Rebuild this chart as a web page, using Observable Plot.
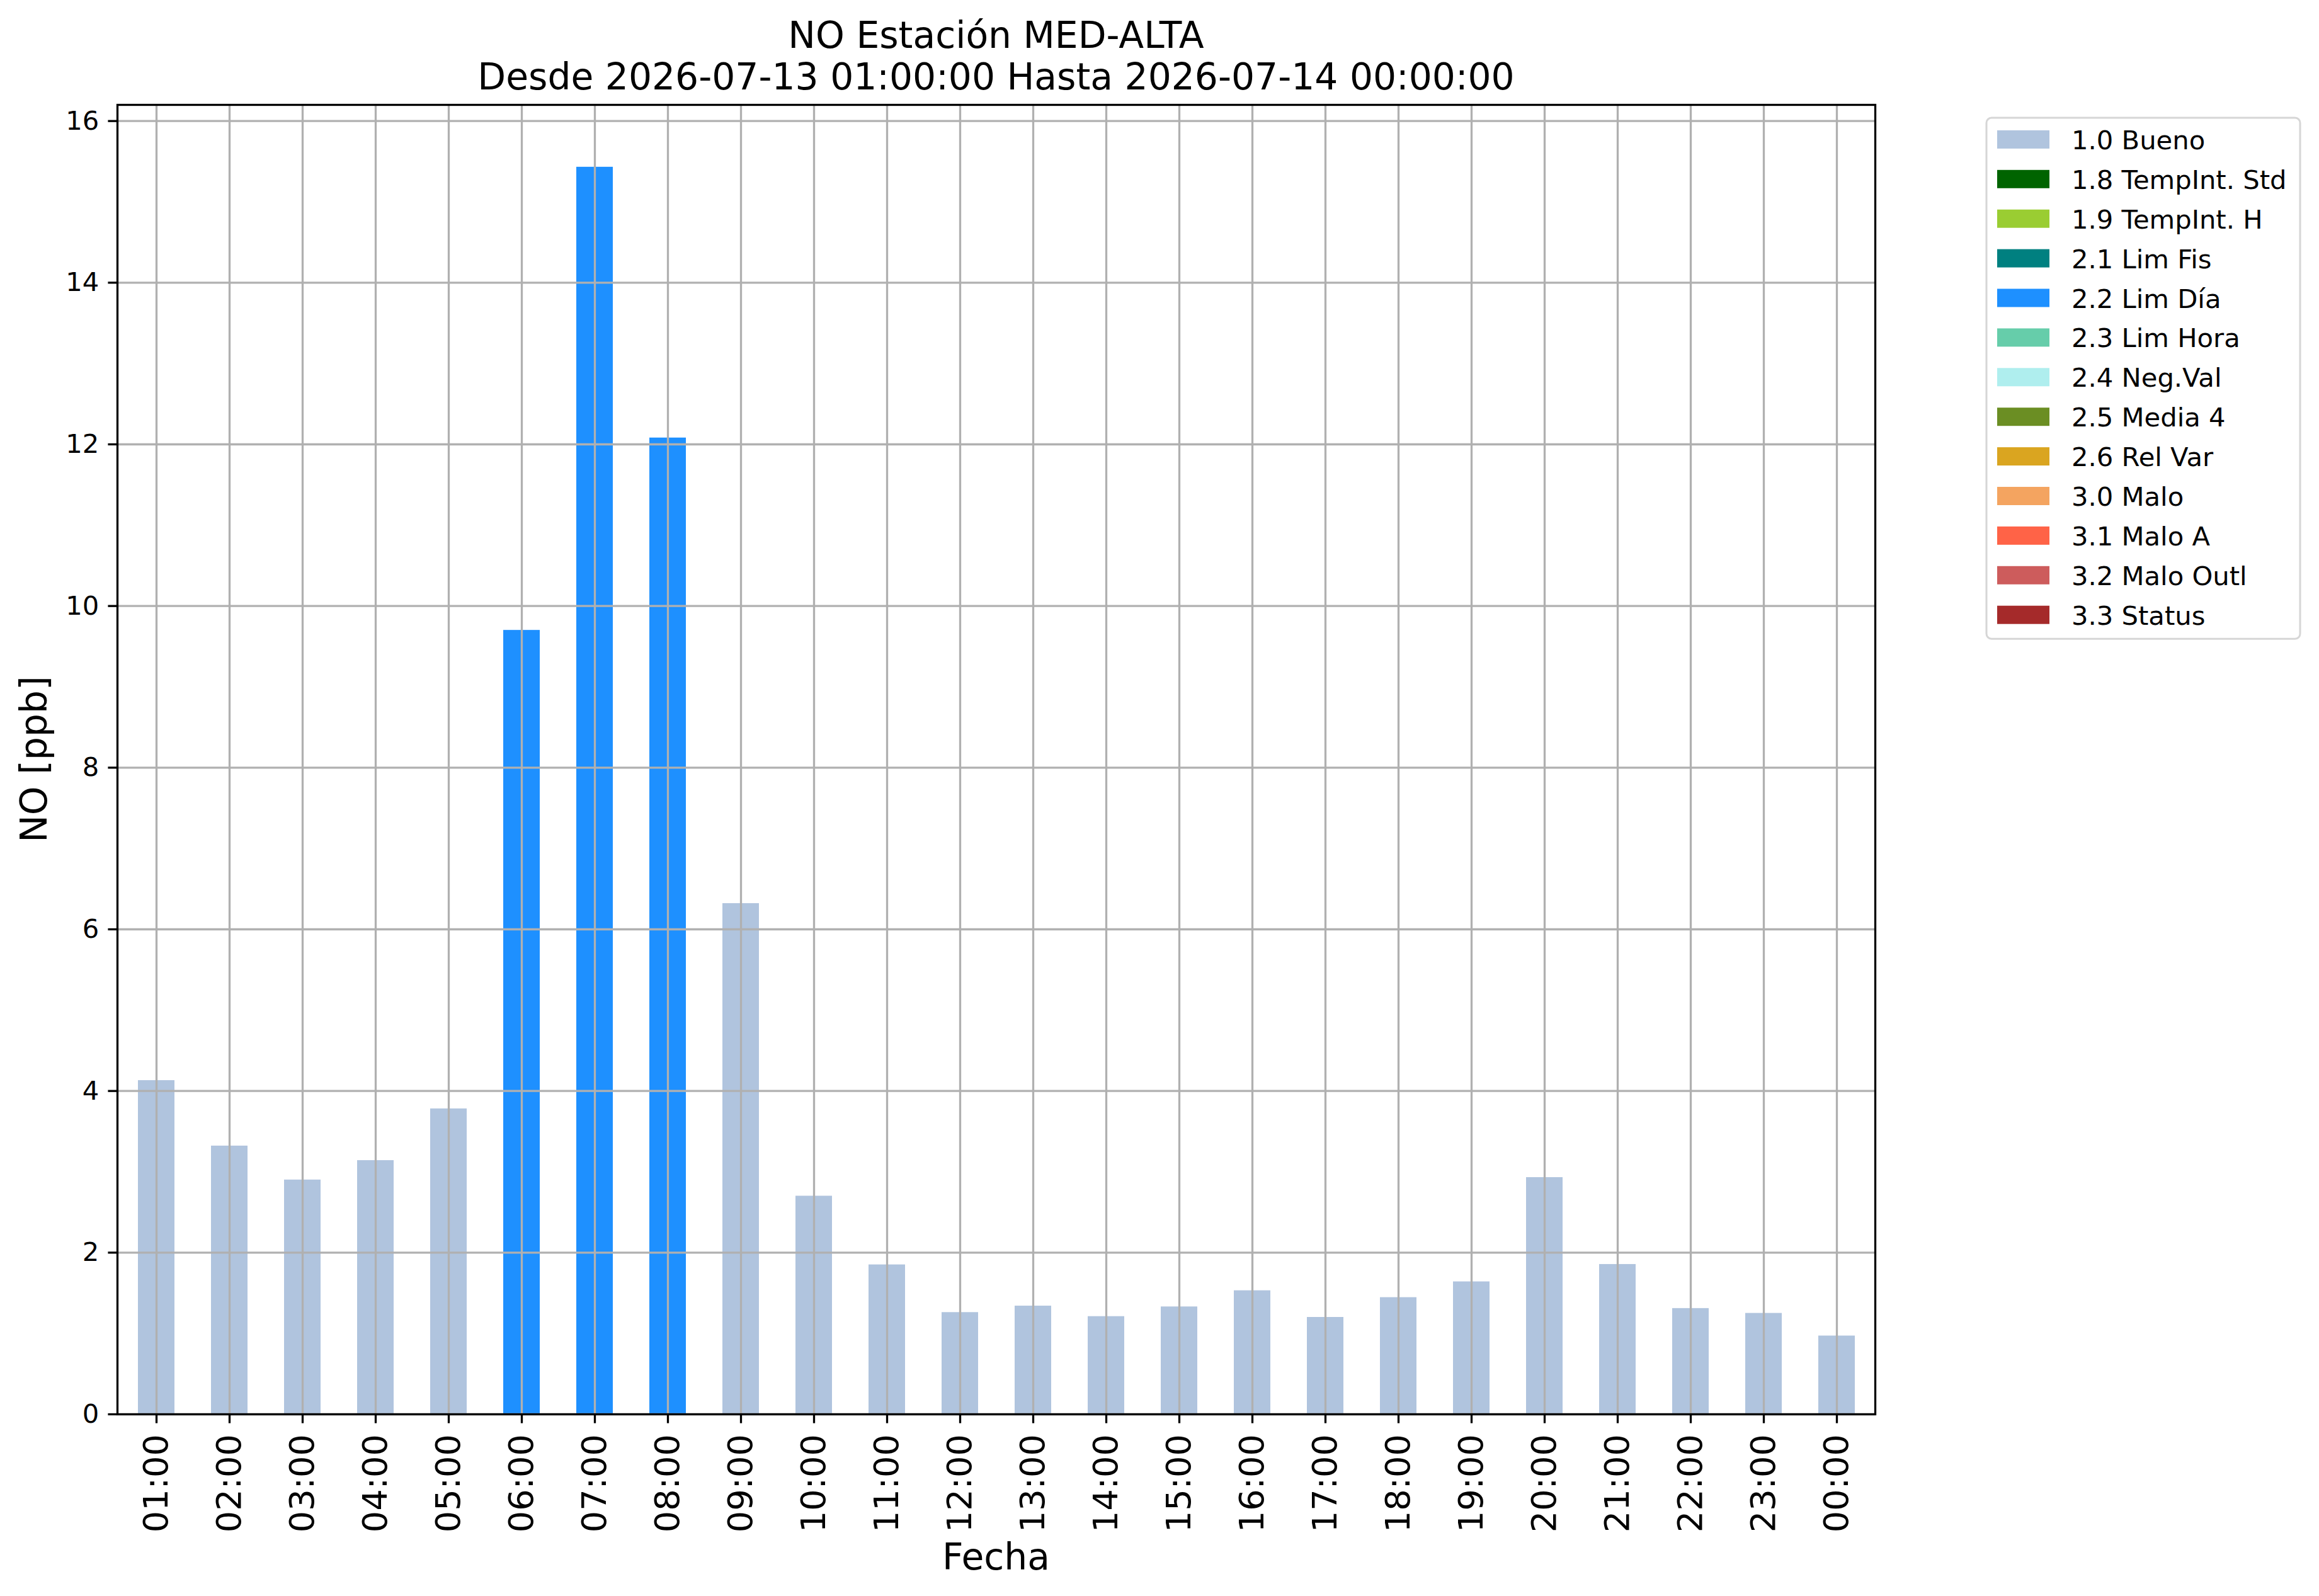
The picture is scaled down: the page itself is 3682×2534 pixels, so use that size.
<!DOCTYPE html>
<html>
<head>
<meta charset="utf-8">
<script src="https://cdn.jsdelivr.net/npm/d3@7"></script>
<script src="https://cdn.jsdelivr.net/npm/@observablehq/plot@0.6"></script>
<style>
  html, body { margin: 0; padding: 0; background: #ffffff; }
  #chart { width: 3682px; height: 2534px; }
</style>
</head>
<body>
<div id="chart"></div>
<script>
// ---- Data ----
const hours = ["01:00","02:00","03:00","04:00","05:00","06:00","07:00","08:00","09:00","10:00","11:00","12:00",
               "13:00","14:00","15:00","16:00","17:00","18:00","19:00","20:00","21:00","22:00","23:00","00:00"];
const values = [4.13, 3.32, 2.90, 3.14, 3.78, 9.70, 15.43, 12.08, 6.32, 2.70, 1.85, 1.26,
                1.34, 1.21, 1.33, 1.53, 1.20, 1.445, 1.64, 2.93, 1.855, 1.31, 1.25, 0.97];
const flags = ["1.0 Bueno","1.0 Bueno","1.0 Bueno","1.0 Bueno","1.0 Bueno","2.2 Lim Día","2.2 Lim Día","2.2 Lim Día",
               "1.0 Bueno","1.0 Bueno","1.0 Bueno","1.0 Bueno","1.0 Bueno","1.0 Bueno","1.0 Bueno","1.0 Bueno",
               "1.0 Bueno","1.0 Bueno","1.0 Bueno","1.0 Bueno","1.0 Bueno","1.0 Bueno","1.0 Bueno","1.0 Bueno"];
const flagLabels = ["1.0 Bueno","1.8 TempInt. Std","1.9 TempInt. H","2.1 Lim Fis","2.2 Lim Día","2.3 Lim Hora",
                    "2.4 Neg.Val","2.5 Media 4","2.6 Rel Var","3.0 Malo","3.1 Malo A","3.2 Malo Outl","3.3 Status"];
const flagColors = ["#B0C4DE","#006400","#9ACD32","#008080","#1E90FF","#66CDAA",
                    "#AFEEEE","#6B8E23","#DAA520","#F4A460","#FF6347","#CD5C5C","#A52A2A"];
const yTicks = [0, 2, 4, 6, 8, 10, 12, 14, 16];
const yMax = 16.2;
const titleLines = ["NO Estación MED-ALTA", "Desde 2026-07-13 01:00:00 Hasta 2026-07-14 00:00:00"];
const xLabel = "Fecha";
const yLabel = "NO [ppb]";

// ---- Build ----
const data = hours.map((h, i) => ({hour: h, value: values[i], flag: flags[i]}));
const W = 3682, H = 2534;
const mL = 186, mR = 705, mT = 166, mB = 289;
const FONT = "DejaVu Sans";
const GRID = "#b0b0b0";

const plot = Plot.plot({
  width: W, height: H,
  marginLeft: mL, marginRight: mR, marginTop: mT, marginBottom: mB,
  style: {fontFamily: FONT, background: "#ffffff", color: "#000000"},
  x: {type: "band", domain: hours, paddingInner: 0.5, paddingOuter: 0.25, align: 0.5},
  y: {domain: [0, yMax]},
  color: {domain: flagLabels, range: flagColors},
  marks: [
    Plot.barY(data, {x: "hour", y: "value", fill: "flag"}),
    Plot.gridX({stroke: GRID, strokeOpacity: 1, strokeWidth: 3.3}),
    Plot.gridY(yTicks, {stroke: GRID, strokeOpacity: 1, strokeWidth: 3.3}),
    Plot.axisX({tickRotate: -90, tickSize: 14.6, tickPadding: 17, fontSize: 54.2, label: null, strokeWidth: 3.3}),
    Plot.axisY({ticks: yTicks, tickSize: 14.6, tickPadding: 14.6, fontSize: 41.7, label: null, strokeWidth: 3.3}),
    Plot.frame({stroke: "#000000", strokeWidth: 3.3})
  ]
});

const svg = d3.select(plot);
const xr = plot.scale("x").range;
const yr = plot.scale("y").range;
const cx = (xr[0] + xr[1]) / 2;
const cy = (yr[0] + yr[1]) / 2;

// Title (two lines)
const tg = svg.append("g").attr("font-family", FONT).attr("font-size", 58.3).attr("fill", "#000").attr("text-anchor", "middle");
tg.append("text").attr("x", cx).attr("y", 75.7).text(titleLines[0]);
tg.append("text").attr("x", cx).attr("y", 141.7).text(titleLines[1]);

// Axis labels
svg.append("text").attr("font-family", FONT).attr("font-size", 58.3).attr("fill", "#000")
  .attr("x", cx).attr("y", 2492).attr("text-anchor", "middle").text(xLabel);
svg.append("text").attr("font-family", FONT).attr("font-size", 58.3).attr("fill", "#000")
  .attr("transform", `translate(74,${cy}) rotate(-90)`).attr("text-anchor", "middle").text(yLabel);

// Legend
const lg = svg.append("g").attr("font-family", FONT).attr("font-size", 41.7).attr("text-anchor", "start");
const rowH = 62.9, row0 = 221.4;
lg.append("rect").attr("x", 3154).attr("y", 187).attr("width", 498)
  .attr("height", row0 + (flagLabels.length - 1) * rowH + 38 - 187)
  .attr("rx", 8).attr("fill", "#ffffff").attr("stroke", "#d6d6d6").attr("stroke-width", 3);
flagLabels.forEach((lab, i) => {
  const yc = row0 + i * rowH;
  lg.append("rect").attr("x", 3171).attr("y", yc - 14.5).attr("width", 83).attr("height", 29).attr("fill", flagColors[i]);
  lg.append("text").attr("x", 3289).attr("y", yc + 15.5).attr("fill", "#000").attr("text-anchor", "start").text(lab);
});

document.getElementById("chart").appendChild(plot);
</script>
</body>
</html>
